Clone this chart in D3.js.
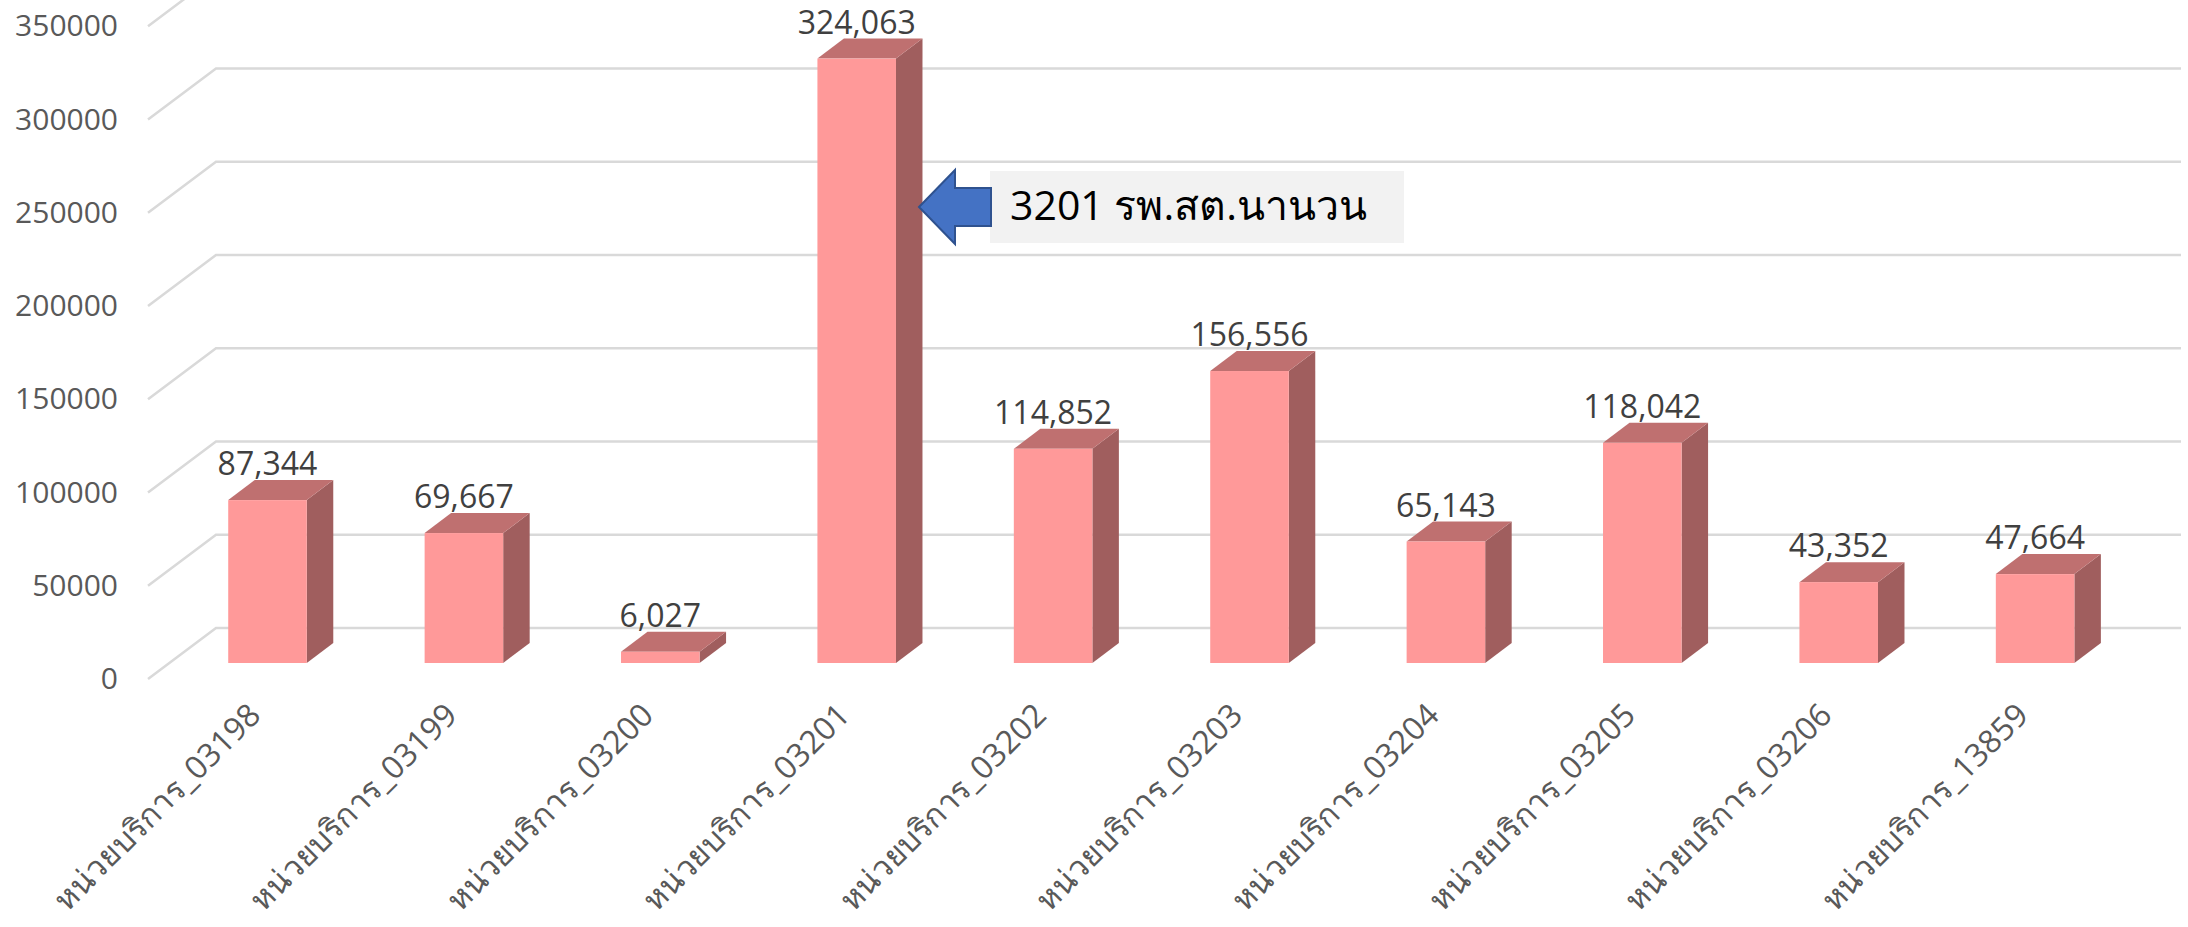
<!DOCTYPE html>
<html>
<head>
<meta charset="utf-8">
<script src="https://cdn.jsdelivr.net/npm/d3@7"></script>
<style>
  html, body { margin: 0; padding: 0; background: #fff; }
  svg { display: block; }
  svg text { font-family: "Open Sans", "Noto Sans", sans-serif; }
</style>
</head>
<body>
<svg id="chart"></svg>
<script>
const categories = ['หน่วยบริการ_03198', 'หน่วยบริการ_03199', 'หน่วยบริการ_03200', 'หน่วยบริการ_03201', 'หน่วยบริการ_03202',
  'หน่วยบริการ_03203', 'หน่วยบริการ_03204', 'หน่วยบริการ_03205', 'หน่วยบริการ_03206', 'หน่วยบริการ_13859'];
const values = [87344, 69667, 6027, 324063, 114852, 156556, 65143, 118042, 43352, 47664];
const yTicks = [0, 50000, 100000, 150000, 200000, 250000, 300000, 350000];
const calloutText = '3201 รพ.สต.นานวน';

const width = 2188;
const height = 927;
const svg = d3.select('#chart').attr('width', width).attr('height', height);

// bar base sits between the front edge of the floor and the back wall
const baseY = 663;
const depthX = 26.5, depthY = 20;
const xScale = d3.scaleBand().domain(categories).range([169.3, 2133.3]).paddingInner(0.6).paddingOuter(0.3);
const yScale = d3.scaleLinear().domain([0, 350000]).range([baseY, baseY - 7 * 93.25]);

// Gridlines on the back wall plus the slanted side wall lines
const grid = svg.append('g').attr('stroke', '#d9d9d9').attr('fill', 'none');
yTicks.forEach((t) => {
  const py = yScale(t);
  grid.append('polyline')
    .attr('stroke-width', 2.5)
    .attr('points', `148,${py + 16} 216,${py - 35} 2181,${py - 35}`);
});

// Y axis
const yAxis = svg.append('g')
  .attr('transform', 'translate(118, 16)')
  .call(d3.axisLeft(yScale).tickValues(yTicks).tickSize(0).tickPadding(0).tickFormat(d3.format('d')));
yAxis.select('.domain').remove();
yAxis.selectAll('text').attr('fill', '#595959').style('font-size', '30px');

// X axis
const xAxis = svg.append('g')
  .attr('transform', 'translate(0, 717)')
  .call(d3.axisBottom(xScale).tickSize(0).tickPadding(0));
xAxis.select('.domain').remove();
xAxis.selectAll('text')
  .attr('fill', '#595959')
  .attr('text-anchor', 'end')
  .attr('dy', 0)
  .attr('transform', 'translate(-5, 0) rotate(-45)')
  .style('font-size', '32px');

// Bars: front, top and side faces
const bars = svg.append('g').selectAll('g').data(categories).join('g');
const x0 = (d) => xScale(d);
const x1 = (d) => xScale(d) + xScale.bandwidth();
const yTop = (d, i) => yScale(values[i]);

bars.append('polygon')
  .attr('fill', '#a05e5e')
  .attr('points', (d, i) => `${x1(d)},${yTop(d, i)} ${x1(d) + depthX},${yTop(d, i) - depthY} ${x1(d) + depthX},${baseY - depthY} ${x1(d)},${baseY}`);
bars.append('polygon')
  .attr('fill', '#bf7070')
  .attr('points', (d, i) => `${x0(d)},${yTop(d, i)} ${x0(d) + depthX},${yTop(d, i) - depthY} ${x1(d) + depthX},${yTop(d, i) - depthY} ${x1(d)},${yTop(d, i)}`);
bars.append('rect')
  .attr('fill', '#ff9999')
  .attr('x', x0)
  .attr('y', yTop)
  .attr('width', xScale.bandwidth())
  .attr('height', (d, i) => baseY - yTop(d, i));

// Data labels
bars.append('text')
  .attr('x', (d) => x0(d) + xScale.bandwidth() / 2)
  .attr('y', (d, i) => yTop(d, i) - 25)
  .attr('text-anchor', 'middle')
  .attr('fill', '#404040')
  .style('font-size', '32px')
  .text((d, i) => d3.format(',')(values[i]));

// Callout box and arrow
svg.append('rect').attr('x', 990).attr('y', 171).attr('width', 414).attr('height', 72).attr('fill', '#f2f2f2');
svg.append('text')
  .attr('x', 1010).attr('y', 220)
  .attr('fill', '#000')
  .style('font-size', '41px')
  .text(calloutText);
svg.append('polygon')
  .attr('fill', '#4472c4')
  .attr('stroke', '#2f528f')
  .attr('stroke-width', 2)
  .attr('points', '919,207 955,170 955,188 991,188 991,226 955,226 955,244');
</script>
</body>
</html>
